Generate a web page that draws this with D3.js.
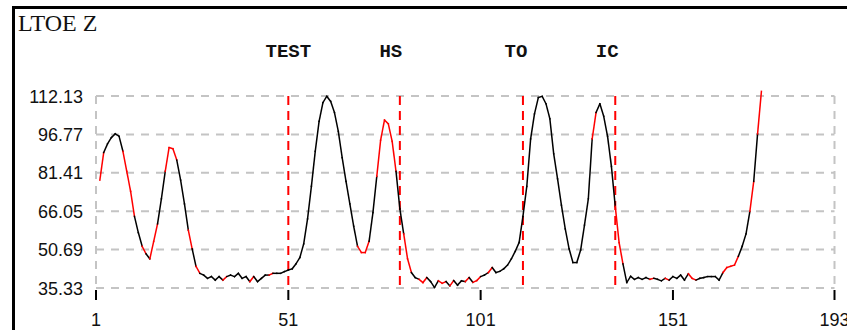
<!DOCTYPE html>
<html>
<head>
<meta charset="utf-8">
<script src="https://cdn.jsdelivr.net/npm/d3@7"></script>
<style>
  html, body { margin: 0; padding: 0; background: #fff; }
  #chart { width: 847px; height: 330px; overflow: hidden; }
</style>
</head>
<body>
<div id="chart"></div>
<script>
const title = "LTOE Z";
const startFrame = 2;
const xTicks = [1, 51, 101, 151, 193];
const yTicks = [35.33, 50.69, 66.05, 81.41, 96.77, 112.13];
const yTickLabels = ["35.33", "50.69", "66.05", "81.41", "96.77", "112.13"];
const eventNames = ["TEST", "HS", "TO", "IC"];
const eventFrames = [51, 80, 112, 136];

// one value per frame, starting at frame 2
const values = [
  78.5, 89.5, 93, 95.5, 97, 96, 90, 82, 74, 64,
  57.5, 52, 49, 47, 54, 61, 71, 82, 91.5, 91,
  86.5, 78.5, 69, 58.5, 51, 44, 41.2, 40.5, 39.2, 39.9,
  38.5, 39.9, 38.5, 39.9, 40.5, 39.9, 41.2, 39.2, 39.9, 37.9,
  39.9, 37.9, 39.2, 40.5, 40.5, 41.2, 41.2, 41.2, 41.9, 42.5,
  43, 45, 47.5, 53, 63, 76, 90, 102, 109.5, 112,
  110, 105.5, 98, 87.5, 78, 69, 60, 52, 49.5, 49.5,
  54, 65.5, 80, 94.5, 102.5, 101, 94, 82, 67, 57,
  47, 41.5, 39.5, 38.8, 37.5, 39.5, 37.9, 35.5, 38.2, 37.2,
  37.9, 36.2, 38.3, 36.5, 38.2, 37.9, 39.5, 37.6, 38.3, 39.9,
  40.5, 41.5, 43.5, 41.5, 42, 43, 44.5, 47, 50, 53.5,
  64, 76, 95, 105, 111.5, 112, 109, 103, 89, 79,
  68.5, 59, 51, 45.5, 45.5, 50.5, 60.5, 71, 95, 105.5,
  109, 104, 96, 84, 68, 53.5, 45, 37.5, 40, 38.8,
  39.5, 38.8, 39.5, 38.8, 39.2, 38.8, 38.2, 39.2, 38.5, 39.9,
  39.2, 40.5, 38.5, 41, 39.2, 38.5, 39.2, 39.5, 39.9, 39.9,
  39.9, 38.5, 41.5, 43.5, 44, 44.5, 48, 52, 57, 66,
  78, 97, 114
];

// colour of each segment between consecutive frames, as runs
const segmentRuns = [
  ["r", 1], ["k", 5], ["r", 3], ["k", 2], ["r", 1], ["k", 1], ["r", 2], ["k", 2],
  ["r", 3], ["k", 3], ["r", 1], ["k", 1], ["r", 1], ["k", 6], ["r", 1], ["k", 6],
  ["r", 1], ["k", 4], ["r", 1], ["k", 22], ["r", 3], ["k", 2], ["r", 5], ["k", 2],
  ["r", 2], ["k", 2], ["r", 2], ["k", 3], ["r", 2], ["k", 1], ["r", 1], ["k", 3],
  ["r", 1], ["k", 1], ["r", 2], ["k", 2], ["r", 1], ["k", 26], ["r", 1], ["k", 5],
  ["r", 2], ["k", 7], ["r", 1], ["k", 3], ["r", 1], ["k", 5], ["r", 2], ["k", 7],
  ["r", 4], ["k", 3], ["r", 1], ["k", 1], ["r", 1]
];

const width = 847, height = 330;
const labelNudge = { TEST: 0, HS: -9, TO: -7, IC: -8 };
const segColor = { r: "#ff0000", k: "#000000" };

const svg = d3.select("#chart").append("svg")
  .attr("width", width)
  .attr("height", height)
  .style("display", "block");

svg.append("rect")
  .attr("width", width).attr("height", height)
  .attr("fill", "#fff");

// panel frame (only left/top edges are visible)
svg.append("path")
  .attr("d", `M13.5,${height} L13.5,7.5 L${width},7.5`)
  .attr("fill", "none")
  .attr("stroke", "#000")
  .attr("stroke-width", 3);

svg.append("text")
  .attr("x", 18).attr("y", 31)
  .attr("font-family", "'Liberation Serif', 'Times New Roman', serif")
  .attr("font-size", 24)
  .attr("fill", "#111")
  .text(title);

const x = d3.scaleLinear().domain([1, 193]).range([96, 834.5]);
const y = d3.scaleLinear().domain([35.33, 112.13]).range([288, 96]);

// gridlines
const grid = svg.append("g")
  .attr("stroke", "#c4c4c4")
  .attr("stroke-width", 2)
  .attr("stroke-dasharray", "8,7");

grid.selectAll("line.h")
  .data(yTicks)
  .enter().append("line")
  .attr("class", "h")
  .attr("x1", x(1)).attr("x2", x(193))
  .attr("y1", d => y(d)).attr("y2", d => y(d));

grid.selectAll("line.v")
  .data([1, 193])
  .enter().append("line")
  .attr("class", "v")
  .attr("x1", d => x(d)).attr("x2", d => x(d))
  .attr("y1", y(112.13)).attr("y2", y(35.33));

// y labels
svg.append("g").selectAll("text")
  .data(yTicks)
  .enter().append("text")
  .attr("x", 83)
  .attr("y", d => y(d) + 6.5)
  .attr("text-anchor", "end")
  .attr("font-family", "'Liberation Sans', Arial, sans-serif")
  .attr("font-size", 18)
  .attr("fill", "#111")
  .text((d, i) => yTickLabels[i]);

// x ticks + labels (the last one runs off the edge, as in the original)
const xAxis = svg.append("g");
xAxis.selectAll("line")
  .data(xTicks)
  .enter().append("line")
  .attr("x1", d => x(d)).attr("x2", d => x(d))
  .attr("y1", 290).attr("y2", 300)
  .attr("stroke", "#000")
  .attr("stroke-width", 2);

xAxis.selectAll("text")
  .data(xTicks)
  .enter().append("text")
  .attr("x", d => x(d))
  .attr("y", 326)
  .attr("text-anchor", "middle")
  .attr("font-family", "'Liberation Sans', Arial, sans-serif")
  .attr("font-size", 18)
  .attr("fill", "#111")
  .text(d => d);

// event markers
svg.append("g").selectAll("line")
  .data(eventFrames)
  .enter().append("line")
  .attr("x1", d => x(d)).attr("x2", d => x(d))
  .attr("y1", y(112.13)).attr("y2", 286)
  .attr("stroke", "#ff0000")
  .attr("stroke-width", 2)
  .attr("stroke-dasharray", "9,6");

svg.append("g").selectAll("text")
  .data(eventNames)
  .enter().append("text")
  .attr("x", (d, i) => x(eventFrames[i]) + labelNudge[d])
  .attr("y", 57)
  .attr("text-anchor", "middle")
  .attr("font-family", "'Liberation Mono', 'Courier New', monospace")
  .attr("font-weight", "bold")
  .attr("font-size", 19)
  .attr("fill", "#111")
  .text(d => d);

// signal: each segment drawn with its own colour
const segColors = [];
segmentRuns.forEach(([c, n]) => { for (let k = 0; k < n; k++) segColors.push(c); });

const points = values.map((v, i) => ({ frame: startFrame + i, value: v }));
const segments = d3.pairs(points).map((p, i) => ({ pts: p, color: segColor[segColors[i] || "k"] }));

const line = d3.line()
  .x(d => x(d.frame))
  .y(d => y(d.value));

svg.append("g")
  .attr("fill", "none")
  .attr("stroke-width", 1.5)
  .attr("stroke-linecap", "square")
  .selectAll("path")
  .data(segments)
  .enter().append("path")
  .attr("d", d => line(d.pts))
  .attr("stroke", d => d.color);
</script>
</body>
</html>
